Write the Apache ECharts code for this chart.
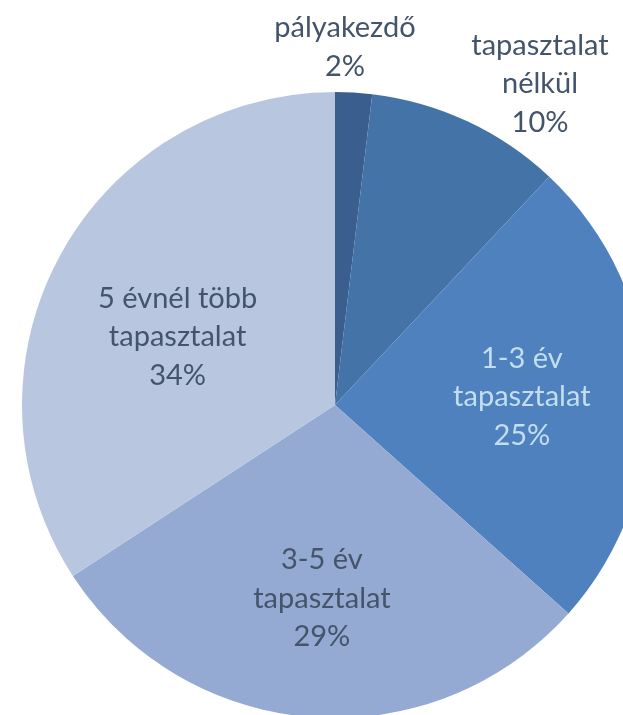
<!DOCTYPE html>
<html>
<head>
<meta charset="utf-8">
<script src="https://cdn.jsdelivr.net/npm/echarts@6/dist/echarts.min.js"></script>
<style>
html,body{margin:0;padding:0;background:#fff;}
#c{width:623px;height:715px;}
</style>
</head>
<body>
<div id="c"></div>
<script>
const categories = ['pályakezdő', 'tapasztalat\nnélkül', '1-3 év\ntapasztalat', '3-5 év\ntapasztalat', '5 évnél több\ntapasztalat'];
const values = [1.9, 10.1, 24.6, 29.2, 34.2];
const colors = ['#3A5F8E', '#4473A8', '#4E81BD', '#95AAD2', '#B9C6E0'];
const labelColors = ['#44546A', '#44546A', '#C3DFEF', '#44546A', '#44546A'];
const outsideIdx = [0, 1];

const cx = 335, cy = 405, R = 313;
// label anchor offsets (from pie centre) for labels placed outside the pie
const outsideOffsets = {0: [10, -358], 1: [205, -321]};
// small nudges for inside labels
const insideNudges = {2: [0, 0], 3: [1, 7], 4: [7, 21]};

const chart = echarts.init(document.getElementById('c'), null, {renderer: 'canvas'});

const fontFamily = 'Lato, "Noto Sans", sans-serif';

const option = {
  animation: false,
  series: [
    {
      type: 'pie',
      center: [cx, cy],
      radius: [0, R],
      startAngle: 90,
      clockwise: true,
      silent: true,
      label: {show: false},
      labelLine: {show: false},
      itemStyle: {borderWidth: 0},
      data: categories.map((c, i) => ({
        name: c, value: values[i], itemStyle: {color: colors[i]}
      }))
    },
    {
      type: 'pie',
      center: [cx, cy],
      radius: [55, R],
      startAngle: 90,
      clockwise: true,
      silent: true,
      itemStyle: {color: 'rgba(0,0,0,0)', borderWidth: 0},
      labelLine: {show: false},
      label: {
        show: true,
        position: 'inside',
        fontFamily: fontFamily,
        fontSize: 29,
        lineHeight: 38.5,
        align: 'center',
        overflow: 'none',
        formatter: p => p.name + '\n' + Math.round(p.percent) + '%'
      },
      labelLayout: function (params) {
        const o = outsideOffsets[params.dataIndex];
        if (o) {
          return {x: cx + o[0], y: cy + o[1], align: 'center', verticalAlign: 'middle'};
        }
        const n = insideNudges[params.dataIndex];
        if (n) return {dx: n[0], dy: n[1]};
        return {};
      },
      data: categories.map((c, i) => ({
        name: c,
        value: values[i],
        label: Object.assign({color: labelColors[i]},
          outsideIdx.indexOf(i) >= 0 ? {position: 'outside', width: 220, overflow: 'none'} : {})
      }))
    }
  ]
};
chart.setOption(option);
</script>
</body>
</html>
